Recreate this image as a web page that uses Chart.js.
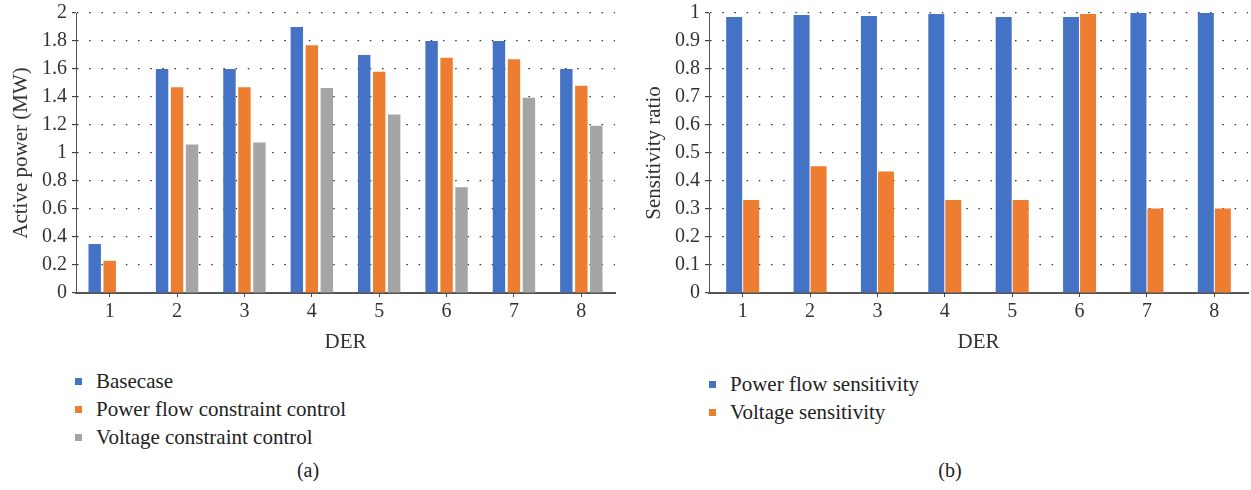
<!DOCTYPE html>
<html>
<head>
<meta charset="utf-8">
<script src="https://cdn.jsdelivr.net/npm/chart.js@4"></script>
<style>
  body { margin: 0; background: #fff; width: 1251px; height: 490px; position: relative; overflow: hidden;
         font-family: "Liberation Serif", "DejaVu Serif", serif; color: #222; }
  .panel { position: absolute; top: -4px; height: 364px; }
  .legend { position: absolute; font-size: 21px; line-height: 28px; }
  .legend div { position: relative; padding-left: 21px; white-space: nowrap; }
  .legend span { position: absolute; left: 0; top: 11px; width: 7px; height: 7px; }
  .caption { position: absolute; top: 459px; font-size: 20px; transform: translateX(-50%); }
</style>
</head>
<body>
<div class="panel" style="left:0;width:625px"><canvas id="chartA"></canvas></div>
<div class="panel" style="left:633px;width:618px"><canvas id="chartB"></canvas></div>
<div class="legend" id="legendA" style="left:75px;top:367px"></div>
<div class="legend" id="legendB" style="left:709px;top:370px"></div>
<div class="caption" style="left:308px">(a)</div>
<div class="caption" style="left:950px">(b)</div>
<script>
const derLabels = ['1', '2', '3', '4', '5', '6', '7', '8'];

// panel (a): active power, MW
const basecase = [0.35, 1.6, 1.6, 1.9, 1.7, 1.8, 1.8, 1.6];
const powerFlowControl = [0.23, 1.47, 1.47, 1.77, 1.58, 1.68, 1.67, 1.48];
const voltageControl = [0, 1.06, 1.075, 1.465, 1.275, 0.755, 1.395, 1.195];

// panel (b): sensitivity ratio
const powerFlowSens = [0.986, 0.993, 0.989, 0.996, 0.986, 0.986, 1.0, 1.0];
const voltageSens = [0.332, 0.453, 0.434, 0.332, 0.332, 0.996, 0.302, 0.302];

const BLUE = '#4472C4', ORANGE = '#ED7D31', GRAY = '#A5A5A5';
const FONT = 'Liberation Serif';

function makeScales(yTitle, yMax, yStep) {
    return {
        x: {
            grid: { offset: false, drawOnChartArea: false, drawTicks: true, tickLength: 4, tickColor: '#444' },
            border: { color: '#555', width: 2 },
            ticks: { color: '#333', font: { family: FONT, size: 20 }, padding: 3 },
            title: { display: true, text: 'DER', color: '#333', font: { family: FONT, size: 21 }, padding: { top: 0, bottom: 5 } },
            afterFit: s => { s.height = 67; }
        },
        y: {
            min: 0, max: yMax,
            grid: { color: '#333', lineWidth: 1.2, tickLength: 4, tickColor: '#444', tickBorderDash: [] },
            border: { color: '#555', width: 1, dash: [1.5, 10.7] },
            ticks: {
                stepSize: yStep, color: '#333', font: { family: FONT, size: 20 }, padding: 5,
                callback: v => String(Number(v.toFixed(2)))
            },
            title: { display: true, text: yTitle, color: '#333', font: { family: FONT, size: 21 }, padding: { top: 9, bottom: 0 } },
            afterFit: s => { s.width = 76; }
        }
    };
}

function buildLegend(id, chart) {
    const box = document.getElementById(id);
    chart.data.datasets.forEach(ds => {
        const row = document.createElement('div');
        const mark = document.createElement('span');
        mark.style.background = ds.backgroundColor;
        row.appendChild(mark);
        row.appendChild(document.createTextNode(ds.label));
        box.appendChild(row);
    });
}

const chartA = new Chart(document.getElementById('chartA'), {
    type: 'bar',
    data: {
        labels: derLabels,
        datasets: [
            { label: 'Basecase', data: basecase, backgroundColor: BLUE },
            { label: 'Power flow constraint control', data: powerFlowControl, backgroundColor: ORANGE },
            { label: 'Voltage constraint control', data: voltageControl, backgroundColor: GRAY }
        ]
    },
    options: {
        responsive: true, maintainAspectRatio: false, animation: false,
        datasets: { bar: { categoryPercentage: 0.667, barPercentage: 0.83 } },
        layout: { padding: { left: 0, right: 10, top: 8, bottom: 0 } },
        plugins: { legend: { display: false }, tooltip: { enabled: false } },
        scales: makeScales('Active power (MW)', 2, 0.2)
    }
});

const chartB = new Chart(document.getElementById('chartB'), {
    type: 'bar',
    data: {
        labels: derLabels,
        datasets: [
            { label: 'Power flow sensitivity', data: powerFlowSens, backgroundColor: BLUE },
            { label: 'Voltage sensitivity', data: voltageSens, backgroundColor: ORANGE }
        ]
    },
    options: {
        responsive: true, maintainAspectRatio: false, animation: false,
        datasets: { bar: { categoryPercentage: 0.505, barPercentage: 0.94 } },
        layout: { padding: { left: 0, right: 3, top: 8, bottom: 0 } },
        plugins: { legend: { display: false }, tooltip: { enabled: false } },
        scales: makeScales('Sensitivity ratio', 1, 0.1)
    }
});

buildLegend('legendA', chartA);
buildLegend('legendB', chartB);
</script>
</body>
</html>
